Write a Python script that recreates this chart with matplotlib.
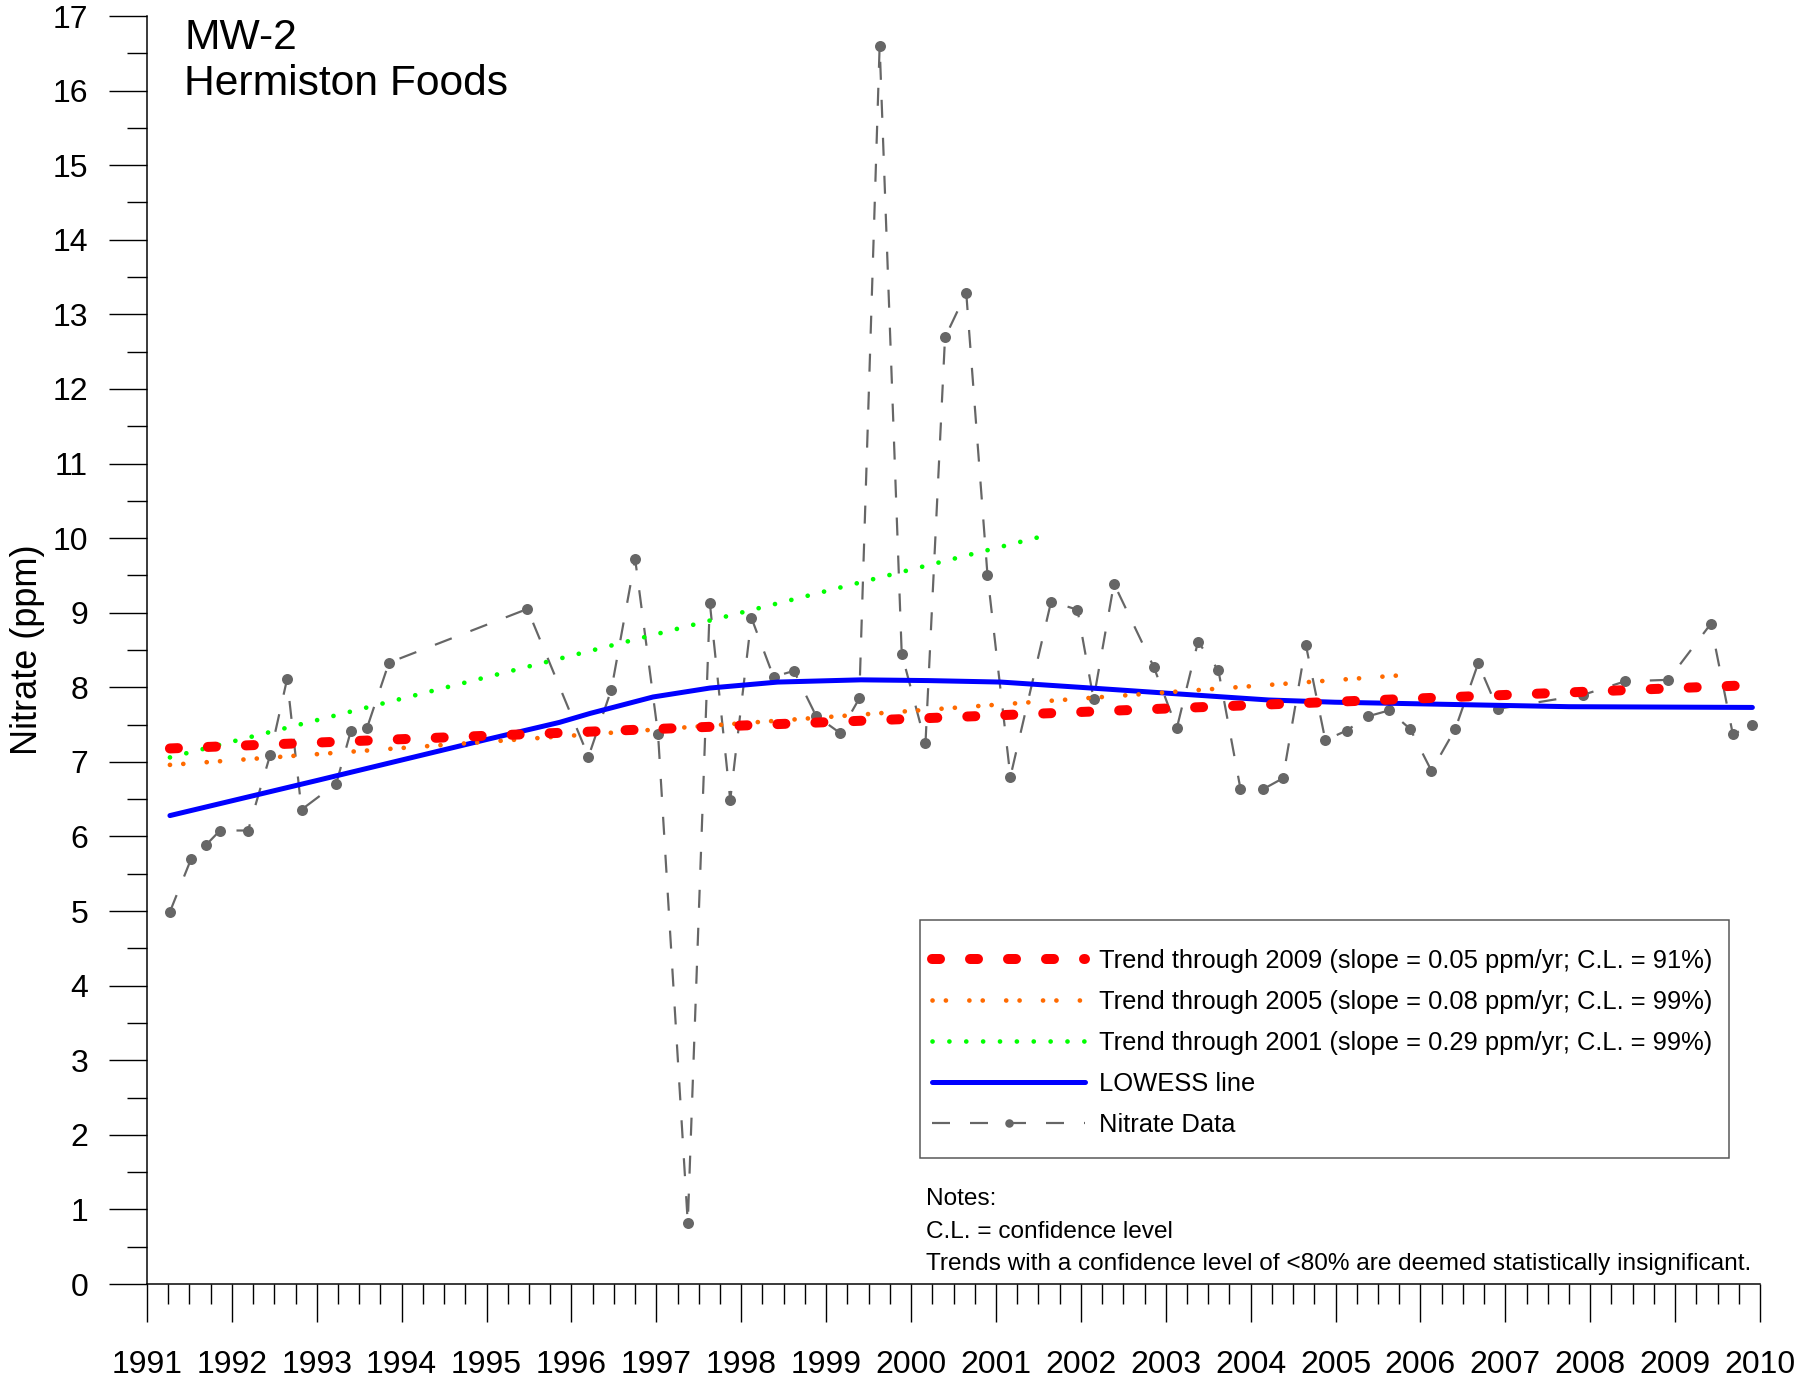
import matplotlib
matplotlib.use("Agg")
import matplotlib.pyplot as plt
from matplotlib.patches import Rectangle
from matplotlib.ticker import MultipleLocator

plt.rcParams["font.family"] = ["Liberation Sans", "DejaVu Sans"]
plt.rcParams["lines.scale_dashes"] = False

# sample dates (decimal years) and nitrate readings (ppm)
years = [1991.27, 1991.52, 1991.69, 1991.86, 1992.19, 1992.45, 1992.65, 1992.82,
         1993.23, 1993.40, 1993.59, 1993.85, 1995.48, 1996.20, 1996.47, 1996.75,
         1997.02, 1997.37, 1997.63, 1997.87, 1998.12, 1998.38, 1998.62, 1998.88,
         1999.16, 1999.39, 1999.63, 1999.89, 2000.17, 2000.40, 2000.65, 2000.90,
         2001.17, 2001.65, 2001.96, 2002.15, 2002.39, 2002.86, 2003.13, 2003.38,
         2003.62, 2003.88, 2004.14, 2004.38, 2004.65, 2004.88, 2005.13, 2005.38,
         2005.63, 2005.88, 2006.13, 2006.41, 2006.68, 2006.91, 2007.92, 2008.41,
         2008.92, 2009.42, 2009.68, 2009.91]
nitrate = [4.99, 5.70, 5.88, 6.08, 6.08, 7.09, 8.11, 6.36,
           6.71, 7.41, 7.45, 8.33, 9.05, 7.07, 7.97, 9.72,
           7.37, 0.82, 9.13, 6.49, 8.93, 8.14, 8.22, 7.62,
           7.39, 7.85, 16.60, 8.45, 7.25, 12.69, 13.29, 9.51,
           6.80, 9.15, 9.04, 7.84, 9.39, 8.27, 7.45, 8.61,
           8.23, 6.64, 6.63, 6.78, 8.57, 7.29, 7.42, 7.61,
           7.69, 7.44, 6.88, 7.44, 8.32, 7.71, 7.90, 8.08,
           8.10, 8.85, 7.37, 7.49]

# LOWESS smooth
lowess_x = [1991.27, 1993.0, 1995.0, 1995.86, 1996.22, 1996.96, 1997.63, 1998.43,
            1999.41, 2000.20, 2001.06, 2002.12, 2003.03, 2004.21, 2004.99, 2006.37,
            2007.75, 2009.91]
lowess_y = [6.28, 6.75, 7.30, 7.53, 7.65, 7.87, 7.99, 8.07,
            8.10, 8.09, 8.07, 7.99, 7.92, 7.83, 7.80, 7.77,
            7.74, 7.73]

# Sen trend lines: start/end year and value
trend2009_x = [1991.27, 2009.91]
trend2009_y = [7.18, 8.03]
trend2005_x = [1991.27, 2005.88]
trend2005_y = [6.96, 8.17]
trend2001_x = [1991.27, 2001.60]
trend2001_y = [7.06, 10.04]

labels = ["Trend through 2009 (slope = 0.05 ppm/yr; C.L. = 91%)",
          "Trend through 2005 (slope = 0.08 ppm/yr; C.L. = 99%)",
          "Trend through 2001 (slope = 0.29 ppm/yr; C.L. = 99%)",
          "LOWESS line",
          "Nitrate Data"]
notes = ["Notes:",
         "C.L. = confidence level",
         "Trends with a confidence level of <80% are deemed statistically insignificant."]

PX = 0.72  # points per pixel at dpi 100
gray = "#666666"

fig = plt.figure(figsize=(18.17, 13.83), dpi=100)
ax = fig.add_axes([147 / 1817, 1 - 1284 / 1383, 1613 / 1817, 1268 / 1383])

ax.plot(years, nitrate, color=gray, lw=2.2 * PX, dashes=(18 * PX, 20 * PX), zorder=2)
ax.plot(years, nitrate, "o", color=gray, ms=11 * PX, mew=0, zorder=3)
ax.plot(lowess_x, lowess_y, color="#0000FF", lw=5 * PX, solid_capstyle="round",
        solid_joinstyle="round", zorder=4, label=labels[3])
ax.plot(trend2001_x, trend2001_y, color="#00FF00", lw=4.7 * PX,
        dashes=(0.05, 16.8 * PX), dash_capstyle="round", zorder=5, label=labels[2])
ax.plot(trend2005_x, trend2005_y, color="#FF6A00", lw=4.7 * PX,
        dashes=(0.05, 13.3 * PX, 0.05, 23.4 * PX), dash_capstyle="round", zorder=6,
        label=labels[1])
ax.plot(trend2009_x, trend2009_y, color="#FF0000", lw=10 * PX,
        dashes=(8 * PX, 30 * PX), dash_capstyle="round", zorder=7, label=labels[0])
# proxy for the data series in the legend
ax.plot([], [], color=gray, lw=2.2 * PX, dashes=(18 * PX, 20 * PX), marker="o",
        ms=8.5 * PX, mew=0, label=labels[4])

ax.set_xlim(1991, 2010)
ax.set_ylim(0, 17)
ax.xaxis.set_minor_locator(MultipleLocator(0.25))
ax.yaxis.set_major_locator(MultipleLocator(1))
ax.yaxis.set_minor_locator(MultipleLocator(0.5))
ax.set_xticks(range(1991, 2011))
ax.set_xticklabels([str(y) for y in range(1991, 2011)])
ax.tick_params(which="major", length=38 * PX, width=1.4 * PX, labelsize=23, pad=15)
ax.tick_params(axis="x", which="major", pad=20)
ax.tick_params(which="minor", length=20 * PX, width=1.4 * PX)
for side in ["top", "right"]:
    ax.spines[side].set_visible(False)
for side in ["left", "bottom"]:
    ax.spines[side].set_linewidth(1.5 * PX)

ax.set_ylabel("Nitrate (ppm)", fontsize=26)
ax.yaxis.set_label_coords(-0.0632, 0.5)

ax.text(1991.44, 16.56, "MW-2", fontsize=30.7, va="baseline")
ax.text(1991.44, 15.94, "Hermiston Foods", fontsize=30.7, va="baseline")

# legend frame + legend
ax.add_patch(Rectangle((0.4792, 0.0994), 0.5016, 0.1877, transform=ax.transAxes,
                       fill=False, edgecolor="#555555", lw=1.5 * PX, zorder=8))
h, l = ax.get_legend_handles_labels()
order = [labels.index(t) for t in l]
pairs = sorted(zip(order, h, l))
leg = ax.legend([p[1] for p in pairs], [p[2] for p in pairs], loc="center left",
                bbox_to_anchor=(0.4867, 0.190), frameon=False, fontsize=18.4,
                borderpad=0, borderaxespad=0, handlelength=6.0, handletextpad=0.52,
                labelspacing=0.66, numpoints=1)
leg.set_zorder(9)

for i, line in enumerate(notes):
    ax.text(1991 + (926 - 147) / 84.9, (1284 - (1205 + 32.5 * i)) / 74.6, line,
            fontsize=17.6, va="baseline")

fig.savefig("out.png", dpi=100)
plt.close(fig)
